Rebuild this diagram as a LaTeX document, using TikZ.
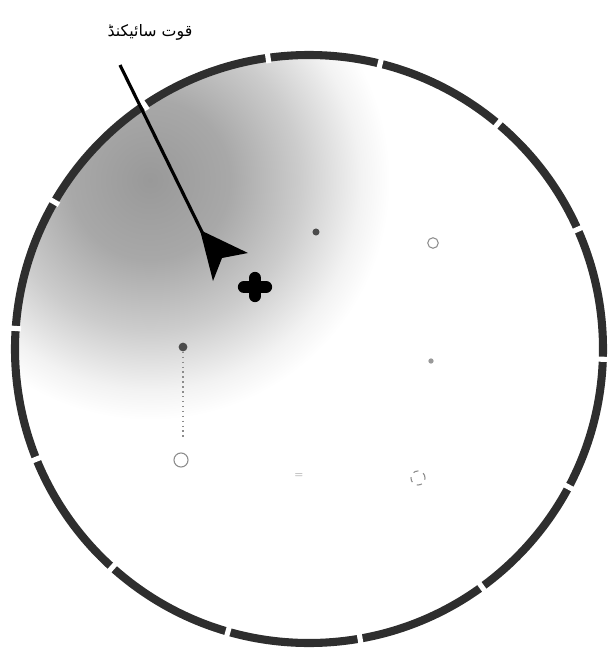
\documentclass[tikz,border=0pt]{standalone}
\usepackage{fontspec}
\newfontfamily\urdufont[Script=Arabic]{DejaVu Sans}
\TeXXeTstate=1
\usepackage{tikz}
\usetikzlibrary{backgrounds}
\pgfdeclareradialshading{haze}{\pgfpoint{0bp}{0bp}}{color(0bp)=(black!40); color(8bp)=(black!34); color(15bp)=(black!20); color(21bp)=(black!5); color(24bp)=(white); color(50bp)=(white)}

\begin{document}
\begin{tikzpicture}[x=0.02cm,y=-0.02cm,
  dotmark/.style={circle,draw=black!45,inner sep=0pt,minimum size=7pt,line width=0.6pt},
  spot/.style={circle,fill=black!70,inner sep=0pt,minimum size=5pt}]

\useasboundingbox (0,0) rectangle (609,649);

% shaded part of the disc
\begin{scope}
\clip (309,349) circle (294);
\shade[shading=haze] (150,180) circle (250);
\end{scope}

% rim with its gaps
\draw[line width=4.6pt,black!82] (309,349) circle (294);
\foreach \a in {-76,-50,-24,2,28,54,80,106,132,158,184,210,236,262}
  \draw[line width=6pt,white] (309,349) ++(\a-0.5:294) arc[start angle=\a-0.5,end angle=\a+0.5,radius=294];

% marks on the disc
\node[spot,minimum size=4pt] (s1) at (316,232) {};
\node[dotmark,minimum size=6pt] (m1) at (433,243) {};
\node[spot] (s2) at (183,347) {};
\node[circle,fill=black!40,inner sep=0pt,minimum size=3pt] (s3) at (431,361) {};
\node[dotmark,minimum size=8pt] (m2) at (181,460) {};
\node[text=black!45,font=\tiny] (m3) at (299,476) {=};
\node[dotmark,minimum size=8pt,dashed] (m4) at (418,478) {};
\draw[black!45,dotted,line width=0.8pt] (s2) -- (183,438);

% cross
\coordinate (c) at (255,287);
\draw[line width=7pt,line cap=round] ([xshift=-0.22cm]c) -- ([xshift=0.22cm]c);
\draw[line width=7pt,line cap=round] ([yshift=-0.18cm]c) -- ([yshift=0.18cm]c);

% label and pointer
\node[font=\urdufont\small] (lbl) at (150,32) {\beginR قوت سائیکنڈ\endR};
\coordinate (tail) at (120,65);
\coordinate (head) at (204,236);
\draw[line width=1.8pt] (tail) -- (head);
\fill (200,230) -- (248,253) -- (222,258) -- (213,281) -- cycle;

\end{tikzpicture}
\end{document}
